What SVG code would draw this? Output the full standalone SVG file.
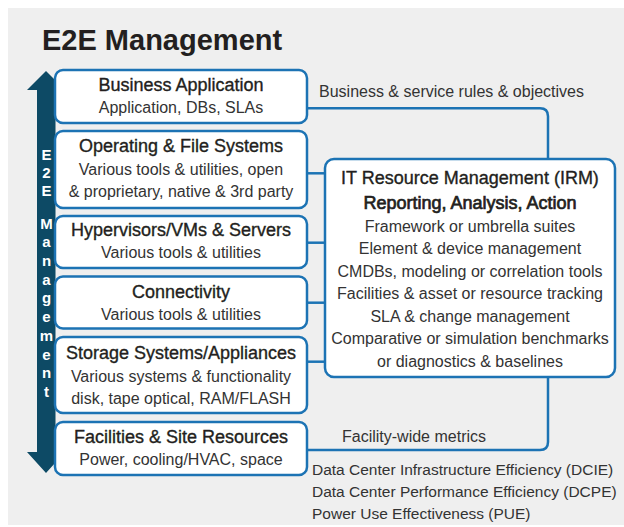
<svg xmlns="http://www.w3.org/2000/svg" width="624" height="527" viewBox="0 0 624 527">
<style>
.box{fill:#ffffff;stroke:#1c73b4;stroke-width:2.5}
.con{fill:none;stroke:#1c73b4;stroke-width:2.5}
.t{font-family:"Liberation Sans",Arial,sans-serif;font-size:18px;fill:#231f20;stroke:#231f20;stroke-width:0.35;text-anchor:middle}
.b{font-family:"Liberation Sans",Arial,sans-serif;font-size:16px;fill:#333333;text-anchor:middle}
.l{font-family:"Liberation Sans",Arial,sans-serif;font-size:16px;fill:#333333}
.m{font-family:"Liberation Sans",Arial,sans-serif;font-size:15.5px;fill:#333333}
.v{font-family:"Liberation Sans",Arial,sans-serif;font-size:15px;fill:#ffffff;font-weight:bold;text-anchor:middle}
</style>
<rect x="0" y="0" width="624" height="527" fill="#ffffff"/>
<rect x="8" y="8" width="616" height="517" fill="#efefef"/>
<text x="42" y="50" font-family="Liberation Sans,Arial,sans-serif" font-size="29" font-weight="bold" fill="#231f20">E2E Management</text>

<g id="arrow">
<polygon points="46,71 65,90 55.5,90 55.5,452 65,452 46,473 27,452 37,452 37,90 27,90" fill="#0d4a65"/>
<text class="v"><tspan x="46.5" y="160">E</tspan><tspan x="46.5" y="178">2</tspan><tspan x="46.5" y="196">E</tspan><tspan x="46.5" y="228.6">M</tspan><tspan x="46.5" y="247.3">a</tspan><tspan x="46.5" y="266">n</tspan><tspan x="46.5" y="284.7">a</tspan><tspan x="46.5" y="303.4">g</tspan><tspan x="46.5" y="322.1">e</tspan><tspan x="46.5" y="340.8">m</tspan><tspan x="46.5" y="359.5">e</tspan><tspan x="46.5" y="378.2">n</tspan><tspan x="46.5" y="396.9">t</tspan></text>
</g>

<g id="connectors">
<path class="con" d="M307,108.3 H540 Q548,108.3 548,116.3 V159"/>
<path class="con" d="M307,173.3 H325"/>
<path class="con" d="M307,242.7 H325"/>
<path class="con" d="M307,302.7 H325"/>
<path class="con" d="M307,361.7 H325"/>
<path class="con" d="M548,377 V442 Q548,450 540,450 H307"/>
<text class="l" x="319" y="97">Business &amp; service rules &amp; objectives</text>
<text class="l" x="342" y="442">Facility-wide metrics</text>
</g>

<g id="business-application">
<rect class="box" x="55" y="70" width="252" height="53" rx="8"/>
<text class="t" x="181" y="91">Business Application</text>
<text class="b" x="181" y="113">Application, DBs, SLAs</text>
</g>

<g id="operating-file-systems">
<rect class="box" x="55" y="131" width="252" height="77" rx="8"/>
<text class="t" x="181" y="152">Operating &amp; File Systems</text>
<text class="b" x="181" y="175">Various tools &amp; utilities, open</text>
<text class="b" x="181" y="197">&amp; proprietary, native &amp; 3rd party</text>
</g>

<g id="hypervisors">
<rect class="box" x="55" y="216" width="252" height="52" rx="8"/>
<text class="t" x="181" y="236">Hypervisors/VMs &amp; Servers</text>
<text class="b" x="181" y="258">Various tools &amp; utilities</text>
</g>

<g id="connectivity">
<rect class="box" x="55" y="276.5" width="252" height="52" rx="8"/>
<text class="t" x="181" y="298">Connectivity</text>
<text class="b" x="181" y="320">Various tools &amp; utilities</text>
</g>

<g id="storage">
<rect class="box" x="55" y="337" width="252" height="76" rx="8"/>
<text class="t" x="181" y="359">Storage Systems/Appliances</text>
<text class="b" x="181" y="382">Various systems &amp; functionality</text>
<text class="b" x="181" y="404">disk, tape optical, RAM/FLASH</text>
</g>

<g id="facilities">
<rect class="box" x="55" y="422" width="252" height="53" rx="8"/>
<text class="t" x="181" y="443">Facilities &amp; Site Resources</text>
<text class="b" x="181" y="465">Power, cooling/HVAC, space</text>
</g>

<g id="irm">
<rect class="box" x="325" y="159" width="290" height="218" rx="9"/>
<text class="t" x="470" y="184">IT Resource Management (IRM)</text>
<text class="t" x="470" y="209" style="stroke-width:0.7">Reporting, Analysis, Action</text>
<text class="b" x="470" y="232">Framework or umbrella suites</text>
<text class="b" x="470" y="254">Element &amp; device management</text>
<text class="b" x="470" y="276.5">CMDBs, modeling or correlation tools</text>
<text class="b" x="470" y="299">Facilities &amp; asset or resource tracking</text>
<text class="b" x="470" y="321.5">SLA &amp; change management</text>
<text class="b" x="470" y="344">Comparative or simulation benchmarks</text>
<text class="b" x="470" y="366.5">or diagnostics &amp; baselines</text>
</g>

<g id="metrics">
<text class="m" x="312" y="475">Data Center Infrastructure Efficiency (DCIE)</text>
<text class="m" x="312" y="497">Data Center Performance Efficiency (DCPE)</text>
<text class="m" x="312" y="519">Power Use Effectiveness (PUE)</text>
</g>
</svg>
